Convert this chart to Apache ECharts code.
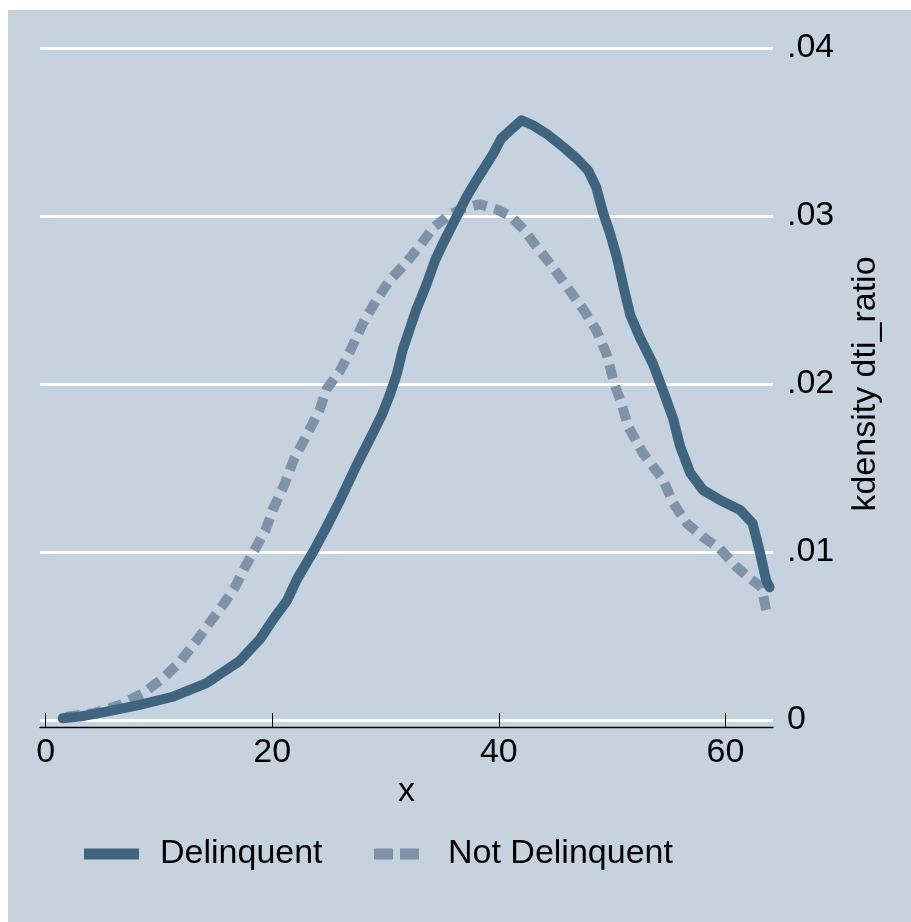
<!DOCTYPE html>
<html>
<head>
<meta charset="utf-8">
<script src="https://cdn.jsdelivr.net/npm/echarts@6/dist/echarts.min.js"></script>
<style>
html,body{margin:0;padding:0;background:#ffffff;width:911px;height:922px;overflow:hidden;}
#chart{position:absolute;left:8px;top:10px;width:903px;height:912px;}
</style>
</head>
<body>
<div id="chart"></div>
<script>
// x tick labels
const xTicks = [0, 20, 40, 60];
const yTicks = [0, 0.01, 0.02, 0.03, 0.04];
const seriesNames = ['Delinquent', 'Not Delinquent'];

// Delinquent kdensity (x, density)
const delX = [1.5, 3.0, 5.4, 8.3, 11.3, 14.2, 17.1, 18.9, 20.2, 21.3, 22.2, 23.6, 24.8, 26.0, 27.4, 28.9, 29.7, 30.4, 31.0, 31.5, 32.1, 32.7, 33.6, 34.4, 35.1, 36.3, 37.2, 38.0, 39.5, 40.2, 41.0, 42.0, 43.0, 44.2, 45.7, 46.9, 47.9, 48.6, 49.2, 49.8, 50.4, 51.0, 51.6, 52.5, 53.6, 54.5, 55.4, 56.0, 56.9, 58.0, 59.5, 61.3, 62.4, 63.0, 63.6, 63.9];
const delY = [0.0001, 0.0002, 0.0005, 0.0009, 0.0014, 0.0022, 0.0035, 0.0048, 0.0061, 0.0071, 0.0084, 0.0100, 0.0115, 0.0131, 0.0151, 0.0171, 0.0182, 0.0194, 0.0206, 0.0220, 0.0232, 0.0244, 0.0259, 0.0274, 0.0284, 0.0300, 0.0312, 0.0321, 0.0337, 0.0346, 0.0351, 0.0357, 0.0354, 0.0349, 0.0341, 0.0334, 0.0327, 0.0317, 0.0302, 0.0290, 0.0276, 0.0258, 0.0241, 0.0227, 0.0212, 0.0196, 0.0179, 0.0163, 0.0147, 0.0137, 0.0131, 0.0125, 0.0117, 0.0101, 0.0083, 0.0079];

// Not Delinquent kdensity (x, density)
const notX = [1.8, 4.2, 6.6, 8.6, 10.4, 11.9, 13.3, 14.6, 15.7, 16.7, 17.6, 18.5, 19.4, 20.1, 21.0, 21.9, 23.0, 24.2, 24.8, 26.0, 26.9, 28.0, 29.2, 30.4, 31.8, 33.0, 34.2, 35.5, 36.6, 38.3, 39.8, 41.0, 42.2, 43.3, 44.5, 46.0, 47.5, 48.6, 49.5, 50.2, 50.8, 51.4, 52.7, 54.5, 55.4, 56.6, 58.0, 59.5, 61.0, 62.2, 63.2, 63.6, 63.8];
const notY = [0.0002, 0.0004, 0.0009, 0.0016, 0.0025, 0.0035, 0.0047, 0.0059, 0.0069, 0.0079, 0.0091, 0.0102, 0.0113, 0.0126, 0.0139, 0.0155, 0.0169, 0.0185, 0.0197, 0.0208, 0.0220, 0.0236, 0.0250, 0.0262, 0.0272, 0.0282, 0.0293, 0.0300, 0.0304, 0.0307, 0.0304, 0.0300, 0.0292, 0.0282, 0.0272, 0.0258, 0.0244, 0.0232, 0.0218, 0.0200, 0.0189, 0.0175, 0.0159, 0.0143, 0.0129, 0.0117, 0.0109, 0.0102, 0.0091, 0.0084, 0.0079, 0.0065, 0.0062];

const zip = (xs, ys) => xs.map((x, i) => [x, ys[i]]);
const FONT = '"Liberation Sans", Arial, Helvetica, sans-serif';

const chart = echarts.init(document.getElementById('chart'), null, {renderer: 'canvas'});
chart.setOption({
  animation: false,
  backgroundColor: '#c6d3df',
  textStyle: {fontFamily: FONT},
  grid: {left: 32, top: 38, right: 138, bottom: 202, containLabel: false},
  xAxis: {
    type: 'value', min: -0.5, max: 64.2, position: 'bottom', offset: 7,
    axisLine: {show: true, onZero: false, lineStyle: {color: '#000', width: 1.3}},
    axisTick: {show: true, inside: true, length: 14, customValues: xTicks, lineStyle: {color: '#000', width: 1}},
    axisLabel: {show: true, customValues: xTicks, fontSize: 34, color: '#000', margin: 9, fontFamily: FONT},
    splitLine: {show: false},
    name: 'x', nameLocation: 'middle', nameGap: 37,
    nameTextStyle: {fontSize: 34, color: '#000', fontFamily: FONT}
  },
  yAxis: {
    type: 'value', min: yTicks[0], max: yTicks[yTicks.length - 1], interval: 0.01, position: 'right',
    axisLine: {show: false}, axisTick: {show: false},
    splitLine: {show: true, lineStyle: {color: '#ffffff', width: 3}},
    axisLabel: {
      fontSize: 34, color: '#000', margin: 14, fontFamily: FONT,
      formatter: v => v === 0 ? '0' : ('.' + Math.round(v * 100).toString().padStart(2, '0'))
    },
    name: 'kdensity dti_ratio', nameLocation: 'middle', nameRotate: 90, nameGap: 76,
    nameTextStyle: {fontSize: 34, color: '#000', fontFamily: FONT}
  },
  legend: [
    {
      data: [{name: seriesNames[0], icon: 'rect'}],
      left: 76, top: 827, padding: 0, itemWidth: 55, itemHeight: 11, selectedMode: false,
      textStyle: {fontSize: 34, color: '#000', padding: [0, 0, 0, 16], fontFamily: FONT}
    },
    {
      data: [{name: seriesNames[1], icon: 'path://M0,0h19v11h-19z M26,0h19v11h-19z'}],
      left: 366, top: 827, padding: 0, itemWidth: 45, itemHeight: 11, selectedMode: false,
      textStyle: {fontSize: 34, color: '#000', padding: [0, 0, 0, 24], fontFamily: FONT}
    }
  ],
  series: [
    {
      name: seriesNames[1], type: 'line', data: zip(notX, notY), symbol: 'none', showSymbol: false,
      itemStyle: {color: '#7e92a9'},
      lineStyle: {color: '#7e92a9', width: 10, type: [14, 8], cap: 'butt'}
    },
    {
      name: seriesNames[0], type: 'line', data: zip(delX, delY), symbol: 'none', showSymbol: false,
      itemStyle: {color: '#3e6480'},
      lineStyle: {color: '#3e6480', width: 10, cap: 'round', join: 'round'}
    }
  ]
});
</script>
</body>
</html>
